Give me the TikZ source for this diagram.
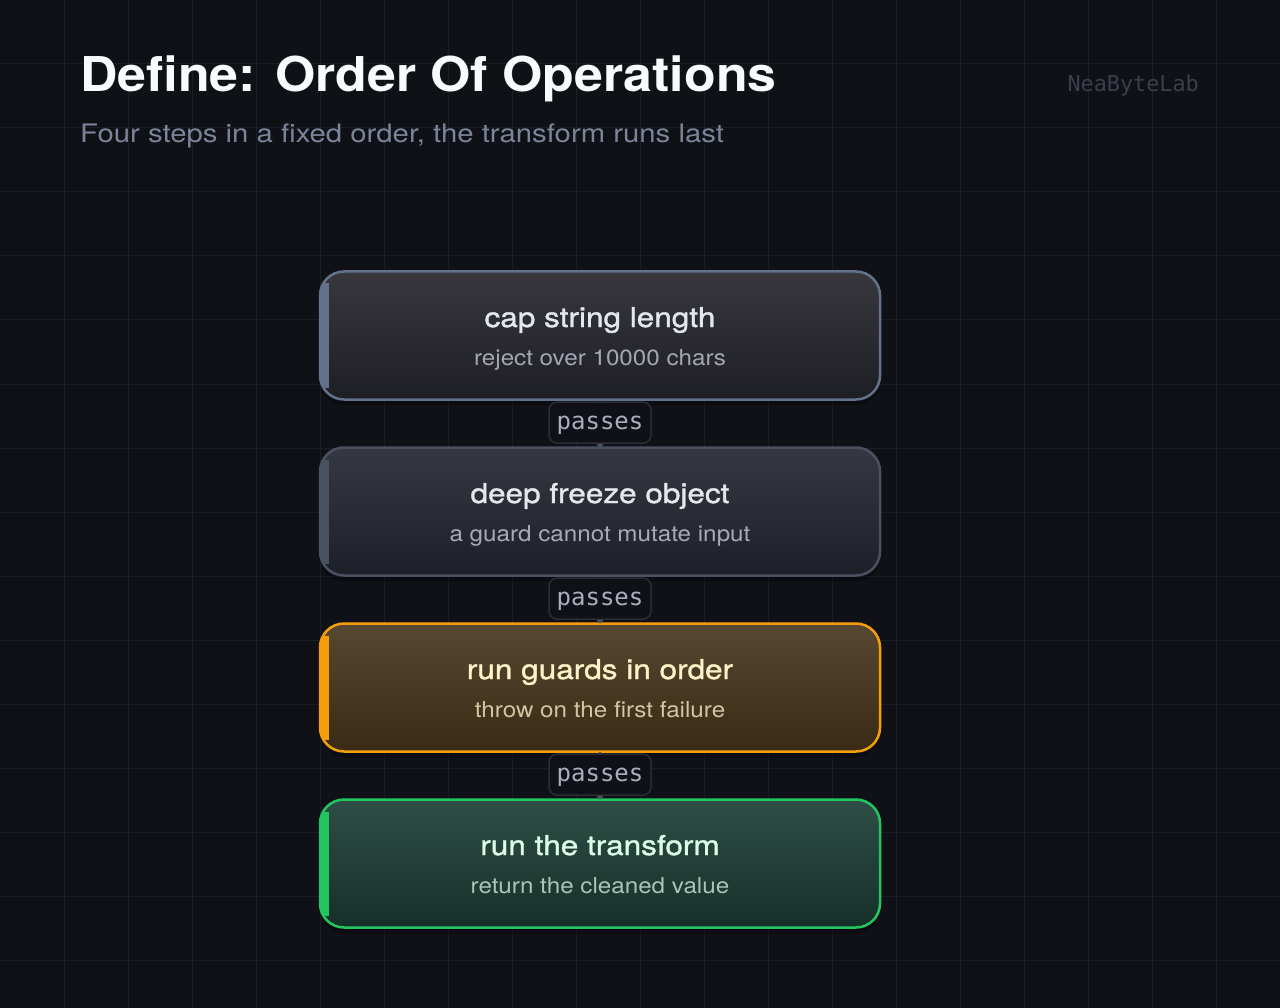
\documentclass[tikz,border=0pt]{standalone}
\usepackage{fontspec}
\setmainfont{TeX Gyre Heros}
\setmonofont{DejaVu Sans Mono}
\newfontfamily\headfont[FakeStretch=1.08]{TeX Gyre Heros}
\newfontfamily\subfont[FakeStretch=1.15]{TeX Gyre Heros}
\newfontfamily\boxtitlefont[FakeStretch=1.15,FakeBold=1.2]{TeX Gyre Heros}
\newfontfamily\boxsubfont[FakeStretch=1.1]{TeX Gyre Heros}
\usetikzlibrary{arrows.meta}
\definecolor{bg}{HTML}{0F1117}
\definecolor{gridc}{HTML}{1B1E26}
\definecolor{titlec}{HTML}{F8FAFC}
\definecolor{subc}{HTML}{7B8499}
\definecolor{markc}{HTML}{3A3F4B}
\definecolor{lblfill}{HTML}{0F1117}
\definecolor{lbldraw}{HTML}{2A2D36}
\definecolor{lbltext}{HTML}{A8B0C0}
\definecolor{connc}{HTML}{4B5262}
% box 1
\definecolor{aBorder}{HTML}{64718A}
\definecolor{aTop}{HTML}{37373D}
\definecolor{aBot}{HTML}{1E1F25}
\definecolor{aTitle}{HTML}{E2E8F0}
\definecolor{aSub}{HTML}{A3A7B3}
% box 2
\definecolor{bBorder}{HTML}{4A5160}
\definecolor{bTop}{HTML}{353741}
\definecolor{bBot}{HTML}{1D2029}
\definecolor{bTitle}{HTML}{E5E7EB}
\definecolor{bSub}{HTML}{A7ABB5}
% box 3
\definecolor{cBorder}{HTML}{F59E0B}
\definecolor{cTop}{HTML}{584831}
\definecolor{cBot}{HTML}{3A2A15}
\definecolor{cTitle}{HTML}{FEF3C7}
\definecolor{cSub}{HTML}{D3C4A4}
% box 4
\definecolor{dBorder}{HTML}{22C55E}
\definecolor{dTop}{HTML}{2E4E45}
\definecolor{dBot}{HTML}{163029}
\definecolor{dTitle}{HTML}{DCFCE7}
\definecolor{dSub}{HTML}{A6C7B8}
\tikzset{
  stepbox/.style={rounded corners=24pt, line width=2.5pt, minimum width=560pt,
    minimum height=128pt, inner sep=0pt, outer sep=0pt},
  steptitle/.style={anchor=base, inner sep=0pt, font=\boxtitlefont\fontsize{27.4}{30}\selectfont},
  stepsub/.style={anchor=base, inner sep=0pt, font=\boxsubfont\fontsize{22}{24}\selectfont},
  passlbl/.style={fill=lblfill, draw=lbldraw, line width=1.5pt, rounded corners=8pt,
    minimum width=102pt, minimum height=41pt, inner sep=0pt, text=lbltext,
    text height=14pt, text depth=0pt,
    font=\ttfamily\fontsize{24}{26}\selectfont},
  conn/.style={draw=connc, line width=2pt, -{Triangle[length=4pt,width=8pt]}},
  gridline/.style={draw=gridc, line width=1pt},
  shadowbox/.style={fill=black, opacity=0.25, rounded corners=24pt}
}
\begin{document}
\begin{tikzpicture}[x=1pt,y=-1pt]
\fill[bg] (0,0) rectangle (1280,1008);
\useasboundingbox (0,0) rectangle (1280,1008);
\foreach \i in {64,128,...,1216} \draw[gridline] (\i,0) -- (\i,1008);
\foreach \j in {64,128,...,960} \draw[gridline] (0,\j) -- (1280,\j);

% header
\node[anchor=base west, inner sep=0pt, text=titlec, font=\headfont\bfseries\fontsize{48}{56}\selectfont] (title) at (80,92) {Define: Order Of Operations};
\node[anchor=base west, inner sep=0pt, text=subc, font=\subfont\fontsize{25.5}{30}\selectfont] (subtitle) at (80,143) {Four steps in a fixed order, the transform runs last};
\node[anchor=base east, inner sep=0pt, text=markc, font=\ttfamily\fontsize{21.8}{24}\selectfont] (mark) at (1199,92) {NeaByteLab};

% shadows
\foreach \y in {341.5,517.5,693.5,869.5}
  \fill[shadowbox] (320,\y-64) rectangle (880,\y+64);

% boxes
\foreach \n/\y/\p in {b1/335.5/a, b2/511.5/b, b3/687.5/c, b4/863.5/d}{
  \node[stepbox, draw=\p Border, top color=\p Top, bottom color=\p Bot] (\n) at (600,\y) {};
  \begin{scope}
    \clip[rounded corners=24pt] (\n.north west) rectangle (\n.south east);
    \fill[\p Border] ([xshift=-2pt,yshift=-12pt]\n.north west) rectangle ([xshift=8.5pt,yshift=12pt]\n.south west);
  \end{scope}
}

% texts
\node[steptitle, text=aTitle] (t1) at (600,327) {cap string length};
\node[stepsub, text=aSub] (s1) at (600,365) {reject over 10000 chars};
\node[steptitle, text=bTitle] (t2) at (600,503) {deep freeze object};
\node[stepsub, text=bSub] (s2) at (600,541) {a guard cannot mutate input};
\node[steptitle, text=cTitle] (t3) at (600,679) {run guards in order};
\node[stepsub, text=cSub] (s3) at (600,717) {throw on the first failure};
\node[steptitle, text=dTitle] (t4) at (600,855) {run the transform};
\node[stepsub, text=dSub] (s4) at (600,893) {return the cleaned value};

% connectors
\draw[conn] (b1.south) -- (b2.north) node[passlbl, pos=0.48] (p1) {passes};
\draw[conn] (b2.south) -- (b3.north) node[passlbl, pos=0.48] (p2) {passes};
\draw[conn] (b3.south) -- (b4.north) node[passlbl, pos=0.48] (p3) {passes};
\end{tikzpicture}
\end{document}
